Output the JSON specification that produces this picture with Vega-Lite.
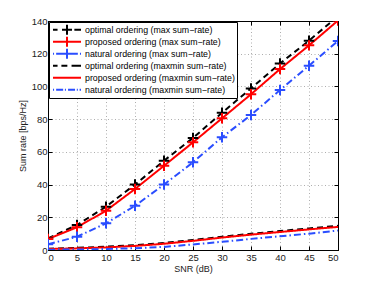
{
  "$schema": "https://vega.github.io/schema/vega-lite/v6.json",
  "width": 290,
  "height": 229,
  "autosize": {"type": "none"},
  "padding": {"left": 48, "top": 21, "right": 36, "bottom": 31},
  "background": "white",
  "config": {
    "view": {"stroke": "black", "strokeWidth": 1},
    "font": "Liberation Sans",
    "axis": {
      "labelFont": "Liberation Sans", "labelFontSize": 9.5, "labelColor": "#222",
      "titleFont": "Liberation Sans", "titleFontSize": 9, "titleFontWeight": "normal", "titleColor": "#222",
      "domainColor": "black", "tickColor": "black",
      "gridColor": "#999999", "gridDash": [1, 2.5], "gridWidth": 0.8
    },
    "legend": {
      "title": null, "orient": "none", "legendX": 1, "legendY": 1,
      "strokeColor": "black", "fillColor": "white", "padding": 2,
      "labelFont": "Liberation Sans", "labelFontSize": 8.8, "labelColor": "black",
      "symbolSize": 49, "symbolStrokeWidth": 2, "symbolOpacity": 1, "symbolOffset": 11.5, "labelOffset": 13.5, "rowPadding": 0, "clipHeight": 11.5
    }
  },
  "datasets": {
    "rates": [
      {"snr": 0, "rate": 7.1, "series": "optimal ordering (max sum−rate)"},
      {"snr": 5, "rate": 15.3, "series": "optimal ordering (max sum−rate)"},
      {"snr": 10, "rate": 26.5, "series": "optimal ordering (max sum−rate)"},
      {"snr": 15, "rate": 40, "series": "optimal ordering (max sum−rate)"},
      {"snr": 20, "rate": 54.6, "series": "optimal ordering (max sum−rate)"},
      {"snr": 25, "rate": 68.5, "series": "optimal ordering (max sum−rate)"},
      {"snr": 30, "rate": 83.9, "series": "optimal ordering (max sum−rate)"},
      {"snr": 35, "rate": 98.8, "series": "optimal ordering (max sum−rate)"},
      {"snr": 40, "rate": 114, "series": "optimal ordering (max sum−rate)"},
      {"snr": 45, "rate": 128, "series": "optimal ordering (max sum−rate)"},
      {"snr": 50, "rate": 143, "series": "optimal ordering (max sum−rate)"},
      {"snr": 0, "rate": 6.7, "series": "proposed ordering (max sum−rate)"},
      {"snr": 5, "rate": 13.9, "series": "proposed ordering (max sum−rate)"},
      {"snr": 10, "rate": 24, "series": "proposed ordering (max sum−rate)"},
      {"snr": 15, "rate": 37.3, "series": "proposed ordering (max sum−rate)"},
      {"snr": 20, "rate": 51.5, "series": "proposed ordering (max sum−rate)"},
      {"snr": 25, "rate": 65.8, "series": "proposed ordering (max sum−rate)"},
      {"snr": 30, "rate": 80.5, "series": "proposed ordering (max sum−rate)"},
      {"snr": 35, "rate": 95.2, "series": "proposed ordering (max sum−rate)"},
      {"snr": 40, "rate": 110.6, "series": "proposed ordering (max sum−rate)"},
      {"snr": 45, "rate": 125.1, "series": "proposed ordering (max sum−rate)"},
      {"snr": 50, "rate": 140.3, "series": "proposed ordering (max sum−rate)"},
      {"snr": 0, "rate": 3.5, "series": "natural ordering (max sum−rate)"},
      {"snr": 5, "rate": 8.1, "series": "natural ordering (max sum−rate)"},
      {"snr": 10, "rate": 16.3, "series": "natural ordering (max sum−rate)"},
      {"snr": 15, "rate": 27, "series": "natural ordering (max sum−rate)"},
      {"snr": 20, "rate": 40, "series": "natural ordering (max sum−rate)"},
      {"snr": 25, "rate": 53.6, "series": "natural ordering (max sum−rate)"},
      {"snr": 30, "rate": 68.9, "series": "natural ordering (max sum−rate)"},
      {"snr": 35, "rate": 82.5, "series": "natural ordering (max sum−rate)"},
      {"snr": 40, "rate": 97.8, "series": "natural ordering (max sum−rate)"},
      {"snr": 45, "rate": 112.7, "series": "natural ordering (max sum−rate)"},
      {"snr": 50, "rate": 127.8, "series": "natural ordering (max sum−rate)"},
      {"snr": 0, "rate": 0.8, "series": "optimal ordering (maxmin sum−rate)"},
      {"snr": 5, "rate": 1.3, "series": "optimal ordering (maxmin sum−rate)"},
      {"snr": 10, "rate": 2.0, "series": "optimal ordering (maxmin sum−rate)"},
      {"snr": 15, "rate": 3.0, "series": "optimal ordering (maxmin sum−rate)"},
      {"snr": 20, "rate": 4.3, "series": "optimal ordering (maxmin sum−rate)"},
      {"snr": 25, "rate": 6.1, "series": "optimal ordering (maxmin sum−rate)"},
      {"snr": 30, "rate": 8.1, "series": "optimal ordering (maxmin sum−rate)"},
      {"snr": 35, "rate": 9.9, "series": "optimal ordering (maxmin sum−rate)"},
      {"snr": 40, "rate": 11.6, "series": "optimal ordering (maxmin sum−rate)"},
      {"snr": 45, "rate": 13.2, "series": "optimal ordering (maxmin sum−rate)"},
      {"snr": 50, "rate": 14.8, "series": "optimal ordering (maxmin sum−rate)"},
      {"snr": 0, "rate": 0.6, "series": "proposed ordering (maxmin sum−rate)"},
      {"snr": 5, "rate": 1.0, "series": "proposed ordering (maxmin sum−rate)"},
      {"snr": 10, "rate": 1.6, "series": "proposed ordering (maxmin sum−rate)"},
      {"snr": 15, "rate": 2.5, "series": "proposed ordering (maxmin sum−rate)"},
      {"snr": 20, "rate": 3.8, "series": "proposed ordering (maxmin sum−rate)"},
      {"snr": 25, "rate": 5.6, "series": "proposed ordering (maxmin sum−rate)"},
      {"snr": 30, "rate": 7.6, "series": "proposed ordering (maxmin sum−rate)"},
      {"snr": 35, "rate": 9.4, "series": "proposed ordering (maxmin sum−rate)"},
      {"snr": 40, "rate": 11.0, "series": "proposed ordering (maxmin sum−rate)"},
      {"snr": 45, "rate": 12.6, "series": "proposed ordering (maxmin sum−rate)"},
      {"snr": 50, "rate": 14.1, "series": "proposed ordering (maxmin sum−rate)"},
      {"snr": 0, "rate": 0.2, "series": "natural ordering (maxmin sum−rate)"},
      {"snr": 5, "rate": 0.3, "series": "natural ordering (maxmin sum−rate)"},
      {"snr": 10, "rate": 0.6, "series": "natural ordering (maxmin sum−rate)"},
      {"snr": 15, "rate": 1.1, "series": "natural ordering (maxmin sum−rate)"},
      {"snr": 20, "rate": 1.9, "series": "natural ordering (maxmin sum−rate)"},
      {"snr": 25, "rate": 3.4, "series": "natural ordering (maxmin sum−rate)"},
      {"snr": 30, "rate": 5.0, "series": "natural ordering (maxmin sum−rate)"},
      {"snr": 35, "rate": 6.8, "series": "natural ordering (maxmin sum−rate)"},
      {"snr": 40, "rate": 8.4, "series": "natural ordering (maxmin sum−rate)"},
      {"snr": 45, "rate": 10.0, "series": "natural ordering (maxmin sum−rate)"},
      {"snr": 50, "rate": 11.9, "series": "natural ordering (maxmin sum−rate)"}
    ]
  },
  "data": {"name": "rates"},
  "resolve": {"axis": {"x": "independent", "y": "independent"}, "scale": {"color": "independent", "shape": "independent"}, "legend": {"color": "independent", "shape": "independent"}},
  "layer": [
    {
      "mark": {"type": "line", "strokeWidth": 2, "clip": true},
      "encoding": {
        "x": {"field": "snr", "type": "quantitative", "scale": {"domain": [0, 50], "nice": false},
              "axis": {"title": "SNR (dB)", "values": [0,5,10,15,20,25,30,35,40,45,50], "tickSize": -4, "labelPadding": 6, "titlePadding": 3, "grid": true}},
        "y": {"field": "rate", "type": "quantitative", "scale": {"domain": [0, 140], "nice": false},
              "axis": {"title": "Sum rate [bps/Hz]", "values": [0,20,40,60,80,100,120,140], "tickSize": -4, "labelPadding": 5, "titlePadding": 4, "grid": true}},
        "color": {"field": "series", "type": "nominal", "legend": null,
          "scale": {
            "domain": ["optimal ordering (max sum−rate)", "proposed ordering (max sum−rate)", "natural ordering (max sum−rate)", "optimal ordering (maxmin sum−rate)", "proposed ordering (maxmin sum−rate)", "natural ordering (maxmin sum−rate)"],
            "range": ["black", "#ff0000", "#2a4dff", "black", "#ff0000", "#2a4dff"]
          }},
        "strokeDash": {"field": "series", "type": "nominal", "legend": null,
          "scale": {
            "domain": ["optimal ordering (max sum−rate)", "proposed ordering (max sum−rate)", "natural ordering (max sum−rate)", "optimal ordering (maxmin sum−rate)", "proposed ordering (maxmin sum−rate)", "natural ordering (maxmin sum−rate)"],
            "range": [[6, 4], [1, 0], [7, 3, 1.5, 3], [6, 4], [1, 0], [7, 3, 1.5, 3]]
          }}
      }
    },
    {
      "transform": [{"filter": {"field": "series", "oneOf": ["optimal ordering (max sum−rate)", "proposed ordering (max sum−rate)", "natural ordering (max sum−rate)"]}}],
      "mark": {"type": "point", "shape": "M-1,0H1M0,-1V1", "size": 110, "strokeWidth": 2, "filled": false, "opacity": 1, "clip": true},
      "encoding": {
        "x": {"field": "snr", "type": "quantitative", "axis": {"orient": "top", "labels": false, "title": null, "tickSize": -4, "grid": false, "values": [0,5,10,15,20,25,30,35,40,45,50]}},
        "y": {"field": "rate", "type": "quantitative", "axis": {"orient": "right", "labels": false, "title": null, "tickSize": -4, "grid": false, "values": [0,20,40,60,80,100,120,140]}},
        "color": {"field": "series", "type": "nominal", "legend": null,
          "scale": {
            "domain": ["optimal ordering (max sum−rate)", "proposed ordering (max sum−rate)", "natural ordering (max sum−rate)"],
            "range": ["black", "#ff0000", "#2a4dff"]
          }}
      }
    },
    {
      "mark": {"type": "point", "size": 49, "strokeWidth": 2, "filled": false, "opacity": 0},
      "encoding": {
        "x": {"field": "snr", "type": "quantitative", "axis": null},
        "y": {"field": "rate", "type": "quantitative", "axis": null},
        "color": {"field": "series", "type": "nominal",
          "scale": {
            "domain": ["optimal ordering (max sum−rate)", "proposed ordering (max sum−rate)", "natural ordering (max sum−rate)", "optimal ordering (maxmin sum−rate)", "proposed ordering (maxmin sum−rate)", "natural ordering (maxmin sum−rate)"],
            "range": ["black", "#ff0000", "#2a4dff", "black", "#ff0000", "#2a4dff"]
          }},
        "shape": {"field": "series", "type": "nominal",
          "scale": {
            "domain": ["optimal ordering (max sum−rate)", "proposed ordering (max sum−rate)", "natural ordering (max sum−rate)", "optimal ordering (maxmin sum−rate)", "proposed ordering (maxmin sum−rate)", "natural ordering (maxmin sum−rate)"],
            "range": [
              "M-4,0H-2.7M-1.43,0H1.43M2.1,0H4M0,-1.4V1.4",
              "M-4,0H4M0,-1.4V1.4",
              "M-4,0H-3.7M-3.1,0H3.1M3.7,0H4M0,-1.4V1.4",
              "M-4,0H-2.7M-1.6,0H0.1M1.3,0H4",
              "M-4,0H4",
              "M-4,0H-3.7M-3.1,0H-1.1M-0.6,0H-0.3M0.3,0H2.3M2.8,0H3.1M3.6,0H4"
            ]
          }}
      }
    }
  ]
}
